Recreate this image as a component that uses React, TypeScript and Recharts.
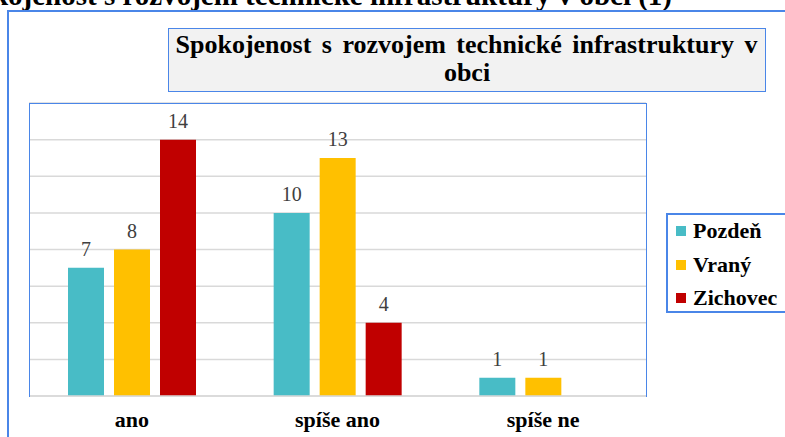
import React from "react";
import { BarChart, Bar, XAxis, YAxis, CartesianGrid, LabelList, Legend } from "recharts";

const categories = ["ano", "spíše ano", "spíše ne"];
const pozden = [7, 10, 1];
const vrany = [8, 13, 1];
const zichovec: (number | null)[] = [14, 4, null];
const yTicks = [0, 2, 4, 6, 8, 10, 12, 14, 16];

const SERIES = [
  { key: "pozden", name: "Pozdeň", color: "#48bcc6" },
  { key: "vrany", name: "Vraný", color: "#ffc000" },
  { key: "zichovec", name: "Zichovec", color: "#c00000" },
];

const BLUE = "#4a86e8";
const GRID = "#d9d9d9";
const FONT = "'Liberation Serif', 'Times New Roman', serif";

const data = categories.map((c, i) => ({
  name: c,
  pozden: pozden[i],
  vrany: vrany[i],
  zichovec: zichovec[i],
}));

// category labels sit ~31px below the axis line
function CategoryTick({ x, y, payload }: any) {
  return (
    <text x={x} y={y + 31} textAnchor="middle" fontFamily={FONT} fontSize={22} fontWeight="bold" fill="#000">
      {payload.value}
    </text>
  );
}

function LegendBox({ payload }: any) {
  return (
    <div
      style={{
        position: "relative",
        width: 130,
        height: 100,
        border: `2px solid ${BLUE}`,
        boxSizing: "border-box",
        background: "#fff",
        fontFamily: FONT,
      }}
    >
      {(payload || []).map((p: any, i: number) => (
        <div key={p.value} style={{ position: "absolute", left: 8, top: 2 + i * 33.5, height: 28, display: "flex", alignItems: "center" }}>
          <span style={{ width: 10, height: 10, background: p.color, display: "inline-block", marginRight: 7 }} />
          <span style={{ fontSize: 22, fontWeight: "bold", color: "#000" }}>{p.value}</span>
        </div>
      ))}
    </div>
  );
}

export default function App() {
  return (
    <div style={{ position: "fixed", left: 0, top: 0, width: 785, height: 437, overflow: "hidden", background: "#fff", fontFamily: FONT }}>
      {/* clipped document heading above the chart */}
      <svg width={785} height={437} style={{ position: "absolute", left: 0, top: 0 }}>
        <text x={672} y={5} textAnchor="end" fontFamily={FONT} fontSize={29} fontWeight="bold" fill="#000">
          Spokojenost s rozvojem technické infrastruktury v obci (1)
        </text>
      </svg>

      {/* outer chart frame */}
      <div style={{ position: "absolute", left: 7, top: 10, width: 900, height: 600, border: `2px solid ${BLUE}`, boxSizing: "border-box" }} />

      {/* title box */}
      <div
        style={{
          position: "absolute",
          left: 168,
          top: 28,
          width: 598,
          height: 64,
          border: `1.5px solid ${BLUE}`,
          background: "#f2f2f2",
          boxSizing: "border-box",
          color: "#000",
          fontWeight: "bold",
          fontSize: 26,
          lineHeight: "26px",
        }}
      >
        <div style={{ position: "absolute", left: 6.5, top: 3.4, width: 582, textAlign: "justify", textAlignLast: "justify" as any }}>
          Spokojenost s rozvojem technické infrastruktury v
        </div>
        <div style={{ position: "absolute", left: 0, top: 31, width: "100%", textAlign: "center" }}>obci</div>
      </div>

      <div style={{ position: "absolute", left: 0, top: 0 }}>
        <BarChart
          width={785}
          height={437}
          data={data}
          margin={{ top: 103, right: 139, bottom: 0, left: 29 }}
          barSize={36}
          barGap={10}
        >
          <CartesianGrid vertical={false} stroke={GRID} strokeWidth={1.5} />
          <XAxis
            dataKey="name"
            height={41}
            axisLine={{ stroke: GRID, strokeWidth: 1.5 }}
            tickLine={false}
            tickSize={0}
            tickMargin={0}
            tick={<CategoryTick />}
            interval={0}
          />
          <YAxis hide domain={[0, 16]} ticks={yTicks} />
          <Legend
            layout="horizontal"
            verticalAlign="middle"
            align="center"
            wrapperStyle={{ left: 666, top: 213, width: 130, height: 100 }}
            content={<LegendBox />}
          />
          {SERIES.map((s) => (
            <Bar key={s.key} dataKey={s.key} name={s.name} fill={s.color} isAnimationActive={false}>
              <LabelList dataKey={s.key} position="top" offset={12} fontFamily={FONT} fontSize={20} fill="#404040" />
            </Bar>
          ))}
        </BarChart>
      </div>

      {/* plot area frame (blue on top/left/right, gray axis at bottom) */}
      <div
        style={{
          position: "absolute",
          left: 28.5,
          top: 102.5,
          width: 618,
          height: 294,
          borderTop: `1.5px solid ${BLUE}`,
          borderLeft: `1.5px solid ${BLUE}`,
          borderRight: `1.5px solid ${BLUE}`,
          boxSizing: "border-box",
          pointerEvents: "none",
        }}
      />
    </div>
  );
}
